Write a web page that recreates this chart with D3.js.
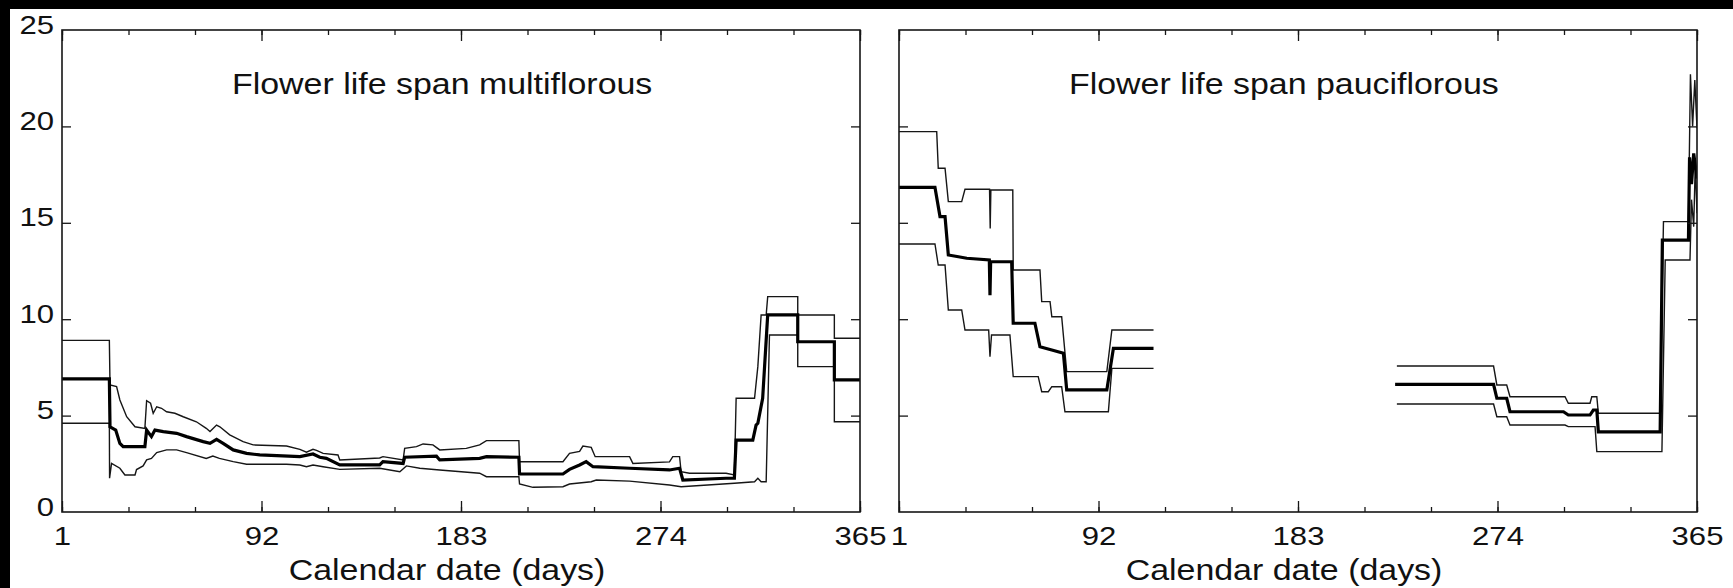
<!DOCTYPE html>
<html><head><meta charset="utf-8">
<script src="https://cdn.jsdelivr.net/npm/d3@7"></script>
<style>
html,body{margin:0;padding:0;background:#fff;}
svg{display:block;}
text{font-family:"Liberation Sans",Arial,Helvetica,sans-serif;fill:#111;}
</style></head><body>
<svg id="chart" width="1733" height="588"></svg>
<script>
// ---------- text ----------
const panelTitles = ["Flower life span multiflorous", "Flower life span pauciflorous"];
const xAxisTitle = "Calendar date (days)";
const xTickLabels = [1, 92, 183, 274, 365];
const yTickLabels = [0, 5, 10, 15, 20, 25];

// ---------- data: [calendar day, flower life span (days)] ----------
const multiUpper = [[1,8.9],[22.6,8.9],[22.9,6.59],[25.9,6.5],[27.4,5.81],[30.5,4.94],[34.3,4.42],[38.8,4.34],[39.6,5.77],[41.4,5.64],[42.6,5.12],[44.2,5.46],[46.4,5.38],[48.7,5.2],[52.5,5.12],[56.3,4.94],[62.3,4.68],[66.8,4.34],[68.5,4.17],[71.5,4.51],[73,4.42],[77.5,4.0],[83.6,3.65],[88.2,3.48],[103.4,3.42],[109.5,3.25],[112.5,3.1],[115.5,3.25],[117.1,3.2],[120.1,3.04],[126.9,2.96],[127.7,2.7],[145.9,2.8],[147.4,2.87],[156.6,2.7],[157.3,3.3],[162.7,3.39],[165.7,3.53],[170.2,3.48],[173.3,3.22],[185.4,3.3],[191.5,3.48],[194.6,3.7],[209.4,3.7],[209.7,2.61],[229.5,2.61],[232.5,3.04],[237.1,3.14],[238.6,3.42],[242.4,3.35],[244.2,2.87],[259.9,2.87],[261.4,2.52],[278.1,2.6],[279.6,2.87],[282.7,2.87],[283.4,2.09],[287.2,2.01],[303.9,2.01],[307.7,1.92],[308.5,5.9],[316.9,5.9],[318.4,7.54],[319.9,10.22],[322.2,10.22],[322.9,11.17],[336.6,11.17],[336.6,10.22],[353.3,10.22],[353.3,9.01],[365,9.01]];
const multiMean = [[1,6.9],[22.6,6.9],[22.9,4.42],[25.5,4.25],[27.4,3.56],[28.9,3.39],[38.8,3.39],[39.6,4.25],[41.8,3.91],[43.4,4.25],[47.2,4.17],[53.3,4.08],[57.8,3.91],[65.4,3.65],[68.5,3.56],[71.5,3.77],[74.5,3.56],[79.1,3.22],[85.2,3.04],[91.2,2.96],[109.5,2.87],[115.5,3.01],[118.6,2.84],[121.6,2.78],[127.7,2.44],[145.9,2.44],[147.4,2.61],[156.6,2.52],[157.3,2.84],[171.8,2.9],[173.3,2.7],[191.5,2.78],[194.6,2.87],[209.4,2.84],[209.7,1.97],[229.5,1.97],[232.5,2.21],[237.1,2.44],[240.1,2.61],[243.2,2.35],[259.9,2.27],[278.1,2.18],[282.7,2.27],[284.2,1.66],[303.9,1.75],[307.7,1.75],[308.5,3.73],[316.1,3.73],[317.6,4.51],[318.4,4.6],[320.6,5.9],[322.9,10.22],[336.6,10.22],[336.6,8.83],[353.3,8.83],[353.3,6.85],[365,6.85]];
const multiLower = [[1,4.6],[22.6,4.6],[22.7,1.75],[23.6,2.52],[27.4,2.27],[29.7,1.92],[34.3,1.92],[35,2.2],[38,2.39],[39.6,2.7],[41.8,2.78],[44.2,3.08],[48.7,3.22],[53.3,3.22],[57.8,3.08],[66.8,2.78],[69.8,2.9],[72.8,2.78],[79.1,2.61],[85.2,2.48],[103.4,2.48],[109.5,2.44],[112.5,2.35],[115.5,2.44],[120.1,2.35],[127.7,2.21],[145.9,2.27],[155.1,2.09],[158.1,2.39],[164.2,2.27],[173.3,2.18],[191.5,2.01],[194.6,1.83],[209.4,1.83],[209.7,1.45],[215.8,1.28],[229.5,1.31],[232.5,1.45],[242.4,1.57],[244.7,1.66],[259.9,1.6],[278.1,1.4],[283.4,1.31],[307.7,1.49],[316.9,1.57],[318.4,1.75],[319.9,1.57],[322.2,1.57],[323.7,9.18],[336.6,9.18],[336.6,7.54],[353.3,7.54],[353.3,4.68],[365,4.68]];

const pauciUpperSpring = [[1,19.73],[18.2,19.73],[18.9,17.83],[22,17.83],[23.5,16.1],[29.6,16.1],[31.1,16.74],[42.3,16.74],[42.6,14.71],[42.9,16.7],[52.9,16.7],[53.1,12.55],[65.3,12.55],[66.1,10.91],[69.9,10.91],[70.7,10.13],[75.2,10.13],[77.5,7.28],[95.8,7.28],[98.1,9.44],[117.1,9.44]];
const pauciMeanSpring = [[1,16.84],[17.4,16.84],[19.7,15.32],[22,15.32],[23.5,13.33],[31.9,13.16],[42.2,13.07],[42.5,11.25],[42.8,12.98],[52.4,12.98],[53.1,9.79],[63,9.79],[65.3,8.57],[70.7,8.4],[76,8.23],[77.5,6.33],[95.8,6.33],[98.8,8.49],[117.1,8.49]];
const pauciLowerSpring = [[1,13.9],[17.4,13.9],[18.9,12.81],[22,12.81],[23.5,10.48],[29.6,10.48],[31.1,9.44],[41.9,9.44],[42.5,8.06],[43.2,9.18],[51.6,9.18],[53.1,7.02],[64.5,7.02],[66.1,6.24],[69.1,6.24],[70.7,6.5],[75.2,6.5],[76.7,5.2],[96.5,5.2],[98.1,7.45],[117.1,7.45]];

const pauciUpperAutumn = [[228.1,7.57],[272.2,7.57],[273.7,6.59],[278.2,6.59],[279.7,5.98],[304.8,5.98],[306.3,5.64],[316.2,5.64],[317,5.98],[319.3,5.98],[320,5.12],[348.2,5.12],[349.7,15.06],[361.1,15.06],[362,22.7],[363,20.0],[364,22.4],[365,19.9]];
const pauciMeanAutumn = [[227.3,6.62],[272.2,6.62],[273.7,5.9],[278.2,5.9],[279.7,5.2],[304.1,5.2],[306.3,5.03],[316.2,5.03],[317.7,5.29],[319.3,5.29],[320,4.16],[348.2,4.16],[349.2,14.1],[361.1,14.1],[361.6,18.4],[362.5,17.0],[363.5,18.6],[365,17.3]];
const pauciLowerAutumn = [[228.1,5.6],[272.2,5.6],[273.7,4.94],[278.2,4.94],[279.7,4.51],[304.8,4.51],[306.3,4.43],[318.5,4.43],[319.3,3.13],[349,3.13],[350.5,13.07],[361.8,13.07],[362.5,16.2],[363.5,14.8],[364.2,18.0],[365,15.5]];

// ---------- layout ----------
const W = 1733, H = 588;
const plotTop = 30, plotBottom = 512;
const panels = [
  {x0: 62, x1: 860, title: panelTitles[0], yLabels: true,
   bounds: [multiUpper, multiLower], means: [multiMean]},
  {x0: 899, x1: 1697, title: panelTitles[1], yLabels: false,
   bounds: [pauciUpperSpring, pauciLowerSpring, pauciUpperAutumn, pauciLowerAutumn],
   means: [pauciMeanSpring, pauciMeanAutumn]}
];
const ink = "#161616";

const svg = d3.select("#chart");
svg.append("rect").attr("width", W).attr("height", H).attr("fill", "#fff");
svg.append("rect").attr("x", 0).attr("y", 0).attr("width", W).attr("height", 9).attr("fill", "#000");
svg.append("rect").attr("x", 0).attr("y", 0).attr("width", 10).attr("height", H).attr("fill", "#000");

const monthTicks = d3.range(13).map(k => 1 + k * 364 / 12);
const innerY = [5, 10, 15, 20];

panels.forEach((p, i) => {
  const x = d3.scaleLinear().domain([1, 365]).range([p.x0, p.x1]);
  const y = d3.scaleLinear().domain([0, 25]).range([plotBottom, plotTop]);
  const g = svg.append("g");

  const clipId = "clip" + i;
  g.append("clipPath").attr("id", clipId).append("rect")
    .attr("x", p.x0).attr("y", plotTop).attr("width", p.x1 - p.x0).attr("height", plotBottom - plotTop);

  const line = d3.line().x(d => x(d[0])).y(d => y(d[1]));
  const lines = g.append("g").attr("clip-path", `url(#${clipId})`);
  p.bounds.forEach(s => lines.append("path").datum(s).attr("d", line)
    .attr("fill", "none").attr("stroke", ink).attr("stroke-width", 1.4).attr("stroke-linejoin", "miter"));
  p.means.forEach(s => lines.append("path").datum(s).attr("d", line)
    .attr("fill", "none").attr("stroke", "#000").attr("stroke-width", 3.2).attr("stroke-linejoin", "miter"));

  const styleAxis = sel => {
    sel.select(".domain").remove();
    sel.selectAll("line").attr("stroke", ink).attr("stroke-width", 1.3);
  };
  // bottom: minor + major ticks pointing inward
  g.append("g").attr("transform", `translate(0,${plotBottom})`)
    .call(d3.axisBottom(x).tickValues(monthTicks).tickSize(-5).tickFormat("")).call(styleAxis);
  const bx = g.append("g").attr("transform", `translate(0,${plotBottom})`)
    .call(d3.axisBottom(x).tickValues(xTickLabels).tickSize(-11).tickFormat(d3.format("d"))).call(styleAxis);
  bx.selectAll("text").attr("y", 33).attr("dy", 0).attr("font-size", 25.5)
    .attr("fill", ink).attr("transform", "scale(1.22,1)");
  // top
  g.append("g").attr("transform", `translate(0,${plotTop})`)
    .call(d3.axisTop(x).tickValues(monthTicks).tickSize(-5).tickFormat("")).call(styleAxis);
  g.append("g").attr("transform", `translate(0,${plotTop})`)
    .call(d3.axisTop(x).tickValues(xTickLabels).tickSize(-11).tickFormat("")).call(styleAxis);
  // left / right ticks inward
  g.append("g").attr("transform", `translate(${p.x0},0)`)
    .call(d3.axisLeft(y).tickValues(innerY).tickSize(-9).tickFormat("")).call(styleAxis);
  g.append("g").attr("transform", `translate(${p.x1},0)`)
    .call(d3.axisRight(y).tickValues(innerY).tickSize(-9).tickFormat("")).call(styleAxis);
  if (p.yLabels) {
    const ly = g.append("g").attr("transform", `translate(${p.x0},0)`)
      .call(d3.axisLeft(y).tickValues(yTickLabels).tickSize(0).tickFormat(d3.format("d"))).call(styleAxis);
    ly.selectAll("text").attr("x", -6.5).attr("y", 3).attr("dy", 0).attr("font-size", 25.5)
      .attr("fill", ink).attr("text-anchor", "end").attr("transform", "scale(1.22,1)");
  }
  // frame
  g.append("rect").attr("x", p.x0).attr("y", plotTop).attr("width", p.x1 - p.x0)
    .attr("height", plotBottom - plotTop).attr("fill", "none").attr("stroke", ink).attr("stroke-width", 1.6);

  // title inside panel
  g.append("text").attr("transform", `translate(${p.x0 + 170},94) scale(1.17,1)`)
    .attr("font-size", 29).text(p.title);
  // x axis title
  g.append("text").attr("transform", `translate(${(p.x0 + p.x1) / 2 - 14},580) scale(1.17,1)`)
    .attr("text-anchor", "middle").attr("font-size", 29).text(xAxisTitle);
});
</script>
</body></html>
